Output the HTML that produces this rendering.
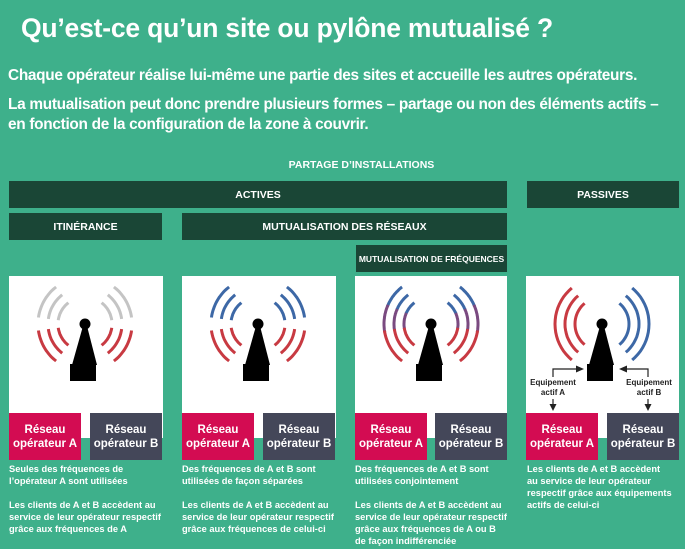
<!DOCTYPE html>
<html><head><meta charset="utf-8">
<style>
*{margin:0;padding:0;box-sizing:border-box}
body{width:685px;height:549px;overflow:hidden;background:#3eb08b;font-family:"Liberation Sans",sans-serif;color:#fff;position:relative}
.a{position:absolute}
.t{left:21px;top:13px;font-size:26.5px;font-weight:bold;letter-spacing:-0.2px}
.p{left:8px;font-size:15.4px;font-weight:bold;letter-spacing:-0.3px}
.bar{position:absolute;background:#1a4636;color:#fff;font-weight:bold;font-size:10.5px;display:flex;align-items:center;justify-content:center;font-family:"Liberation Sans Narrow","Liberation Sans",sans-serif}
.panel{position:absolute;background:#fff;top:276px;height:162px;width:154px}
.box{position:absolute;top:413px;height:47px;width:72px;font-size:11.5px;font-weight:bold;display:flex;align-items:center;justify-content:center;text-align:center;line-height:14px}
.ra{background:#d30c52}.rb{background:#444759}
.d{position:absolute;top:463px;font-size:9.3px;font-weight:bold;line-height:12px;width:170px;font-family:"Liberation Sans Narrow","Liberation Sans",sans-serif}
svg{position:absolute;left:0;top:0}
.eq{font-size:8px;font-weight:bold;fill:#222;font-family:"Liberation Sans",sans-serif}
</style></head><body>
<div class="a t">Qu’est-ce qu’un site ou pylône mutualisé ?</div>
<div class="a p" style="top:67px">Chaque opérateur réalise lui-même une partie des sites et accueille les autres opérateurs.</div>
<div class="a p" style="top:96px">La mutualisation peut donc prendre plusieurs formes – partage ou non des éléments actifs –</div>
<div class="a p" style="top:116px">en fonction de la configuration de la zone à couvrir.</div>
<div class="a" style="left:0;width:685px;text-align:center;top:159px;font-size:10.5px;font-weight:bold;padding-left:38px;font-family:'Liberation Sans Narrow','Liberation Sans',sans-serif">PARTAGE D’INSTALLATIONS</div>
<div class="bar" style="left:9px;top:181px;width:498px;height:27px">ACTIVES</div>
<div class="bar" style="left:527px;top:181px;width:152px;height:27px">PASSIVES</div>
<div class="bar" style="left:9px;top:213px;width:153px;height:27px">ITINÉRANCE</div>
<div class="bar" style="left:182px;top:213px;width:325px;height:27px">MUTUALISATION DES RÉSEAUX</div>
<div class="bar" style="left:356px;top:245px;width:151px;height:27px;font-size:8.5px">MUTUALISATION DE FRÉQUENCES</div>

<div class="panel" style="left:9px"></div>
<div class="panel" style="left:182px"></div>
<div class="panel" style="left:355px;width:152px"></div>
<div class="panel" style="left:526px;width:153px"></div>

<div class="box ra" style="left:9px">Réseau<br>opérateur A</div>
<div class="box rb" style="left:90px">Réseau<br>opérateur B</div>
<div class="box ra" style="left:182px">Réseau<br>opérateur A</div>
<div class="box rb" style="left:263px">Réseau<br>opérateur B</div>
<div class="box ra" style="left:355px">Réseau<br>opérateur A</div>
<div class="box rb" style="left:435px">Réseau<br>opérateur B</div>
<div class="box ra" style="left:526px">Réseau<br>opérateur A</div>
<div class="box rb" style="left:607px">Réseau<br>opérateur B</div>

<svg id="s" width="685" height="549"></svg>

<div class="d" style="left:9px">Seules des fréquences de<br>l’opérateur A sont utilisées<br><br>Les clients de A et B accèdent au<br>service de leur opérateur respectif<br>grâce aux fréquences de A</div>
<div class="d" style="left:182px">Des fréquences de A et B sont<br>utilisées de façon séparées<br><br>Les clients de A et B accèdent au<br>service de leur opérateur respectif<br>grâce aux fréquences de celui-ci</div>
<div class="d" style="left:355px">Des fréquences de A et B sont<br>utilisées conjointement<br><br>Les clients de A et B accèdent au<br>service de leur opérateur respectif<br>grâce aux fréquences de A ou B<br>de façon indifférenciée</div>
<div class="d" style="left:527px">Les clients de A et B accèdent<br>au service de leur opérateur<br>respectif grâce aux équipements<br>actifs de celui-ci</div>

<script>
var s=document.getElementById('s'),h='';
var R='#c83a42',B='#3d68a6',G='#c4c4c4',P='#7a4a80';
function arc(cx,cy,r,a1,a2,c){var p=Math.PI/180,pts=[],n=20;
for(var i=0;i<=n;i++){var a=(a1+(a2-a1)*i/n)*p;pts.push((cx+r*Math.cos(a)).toFixed(1)+','+(cy-r*Math.sin(a)).toFixed(1));}
h+='<polyline points="'+pts.join(' ')+'" fill="none" stroke="'+c+'" stroke-width="3"/>';}
function tower(cx){var cy=324;
h+='<circle cx="'+cx+'" cy="'+cy+'" r="5.5" fill="#000"/>';
h+='<polygon points="'+(cx-2)+','+(cy+2)+' '+(cx+2)+','+(cy+2)+' '+(cx+12)+',365 '+(cx-13)+',365" fill="#000"/>';
h+='<rect x="'+(cx-15)+'" y="364" width="26" height="17" fill="#000"/>';}
function ant(cx,top,bot,sep){var cy=324;[27,37,47].forEach(function(r){
 if(sep){arc(cx,cy,r,130,230,R);arc(cx,cy,r,50,-50,B);}else{
 arc(cx,cy,r,128,172,top);arc(cx,cy,r,188,232,bot);
 arc(cx,cy,r,52,8,top);arc(cx,cy,r,-8,-52,bot);}});tower(cx);}
ant(85,G,R);ant(258,B,R);
(function(cx){var cy=324;[27,37,47].forEach(function(r){
arc(cx,cy,r,128,158,B);arc(cx,cy,r,156,190,P);arc(cx,cy,r,188,232,R);
arc(cx,cy,r,52,22,B);arc(cx,cy,r,24,-10,P);arc(cx,cy,r,-8,-52,R);});tower(cx);})(431);
ant(602,0,0,true);
h+='<path d="M553 377 V369 H577" fill="none" stroke="#222" stroke-width="1.2"/><polygon points="584,369 576,365.5 576,372.5" fill="#222"/>';
h+='<path d="M648 377 V369 H626" fill="none" stroke="#222" stroke-width="1.2"/><polygon points="619,369 627,365.5 627,372.5" fill="#222"/>';
h+='<text class="eq" x="553" y="385" text-anchor="middle">Equipement</text><text class="eq" x="553" y="395" text-anchor="middle">actif A</text>';
h+='<text class="eq" x="649" y="385" text-anchor="middle">Equipement</text><text class="eq" x="649" y="395" text-anchor="middle">actif B</text>';
h+='<line x1="553" y1="399" x2="553" y2="405" stroke="#222" stroke-width="1.2"/><polygon points="553,411 549.5,404 556.5,404" fill="#222"/>';
h+='<line x1="648" y1="399" x2="648" y2="405" stroke="#222" stroke-width="1.2"/><polygon points="648,411 644.5,404 651.5,404" fill="#222"/>';
s.innerHTML=h;
</script>
</body></html>
